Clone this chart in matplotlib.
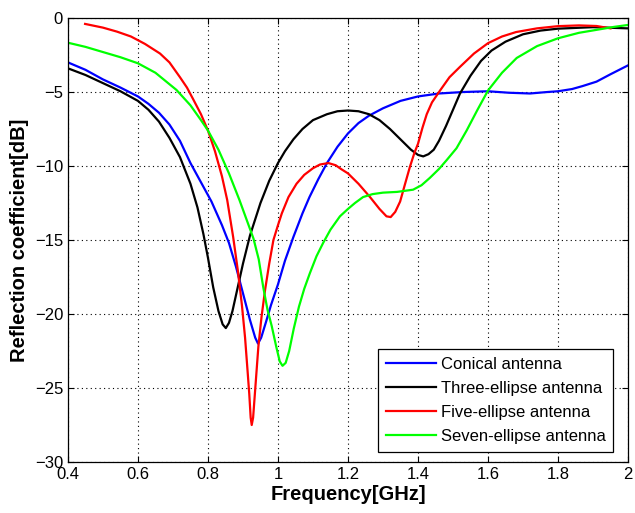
import matplotlib
matplotlib.use("Agg")
import matplotlib.pyplot as plt

plt.rcParams['font.family'] = ['Liberation Sans', 'DejaVu Sans']

# values
conical_f = [0.40, 0.45, 0.50, 0.55, 0.60, 0.63, 0.66, 0.69, 0.72, 0.75, 0.78, 0.81, 0.84,
             0.86, 0.88, 0.90, 0.92, 0.935, 0.943, 0.952, 0.965, 0.98, 1.00, 1.02, 1.044,
             1.07, 1.09, 1.115, 1.14, 1.17, 1.20, 1.23, 1.26, 1.30, 1.35, 1.40, 1.46, 1.53,
             1.60, 1.66, 1.72, 1.77, 1.80, 1.84, 1.87, 1.91, 1.95, 2.00]
conical_s = [-3.0, -3.5, -4.15, -4.7, -5.3, -5.8, -6.4, -7.2, -8.3, -9.8, -11.1, -12.4, -14.0,
             -15.2, -16.8, -18.6, -20.4, -21.6, -22.0, -21.6, -20.6, -19.4, -18.0, -16.4, -14.8,
             -13.2, -12.1, -10.9, -9.8, -8.7, -7.8, -7.1, -6.6, -6.1, -5.6, -5.3, -5.1, -5.0,
             -4.95, -5.05, -5.1, -5.0, -4.95, -4.8, -4.6, -4.3, -3.8, -3.2]

three_f = [0.40, 0.45, 0.50, 0.55, 0.60, 0.63, 0.66, 0.69, 0.72, 0.75, 0.77, 0.787, 0.80,
           0.815, 0.83, 0.842, 0.851, 0.86, 0.87, 0.885, 0.90, 0.92, 0.95, 0.975, 1.00, 1.02,
           1.044, 1.07, 1.10, 1.14, 1.17, 1.20, 1.23, 1.26, 1.29, 1.32, 1.35, 1.38, 1.40,
           1.415, 1.43, 1.445, 1.46, 1.48, 1.50, 1.52, 1.55, 1.58, 1.61, 1.65, 1.70, 1.75,
           1.80, 1.90, 2.00]
three_s = [-3.4, -3.85, -4.4, -4.95, -5.6, -6.2, -7.0, -8.1, -9.4, -11.2, -12.8, -14.6, -16.2,
           -18.2, -19.8, -20.7, -20.95, -20.6, -19.8, -18.2, -16.6, -14.7, -12.5, -11.0, -9.8, -9.0,
           -8.2, -7.5, -6.9, -6.5, -6.3, -6.25, -6.3, -6.5, -6.9, -7.5, -8.2, -8.9, -9.25,
           -9.35, -9.2, -8.9, -8.3, -7.3, -6.2, -5.1, -3.9, -2.9, -2.2, -1.6, -1.1, -0.85,
           -0.72, -0.62, -0.7]

five_f = [0.449, 0.50, 0.54, 0.58, 0.62, 0.663, 0.69, 0.72, 0.74, 0.758, 0.78, 0.80, 0.82,
          0.84, 0.855, 0.872, 0.885, 0.897, 0.906, 0.913, 0.918, 0.922, 0.925, 0.929, 0.934,
          0.939, 0.944, 0.953, 0.963, 0.975, 0.987, 1.00, 1.011, 1.03, 1.053, 1.075, 1.10,
          1.12, 1.144, 1.165, 1.18, 1.20, 1.23, 1.263, 1.29, 1.31, 1.322, 1.335, 1.349,
          1.362, 1.377, 1.39, 1.40, 1.413, 1.425, 1.44, 1.463, 1.49, 1.52, 1.56, 1.60, 1.64,
          1.68, 1.74, 1.80, 1.86, 1.91, 1.95]
five_s = [-0.4, -0.65, -0.92, -1.25, -1.75, -2.4, -3.0, -4.0, -4.7, -5.5, -6.5, -7.6, -9.0,
          -10.7, -12.3, -14.8, -17.0, -19.4, -21.6, -23.8, -25.4, -27.0, -27.5, -27.0, -25.4,
          -23.8, -22.2, -20.2, -18.4, -16.6, -15.0, -14.0, -13.2, -12.1, -11.2, -10.6, -10.15,
          -9.9, -9.8, -9.95, -10.2, -10.5, -11.2, -12.1, -12.9, -13.4, -13.45, -13.1, -12.4,
          -11.3, -10.05, -9.1, -8.5, -7.4, -6.5, -5.7, -4.9, -4.0, -3.3, -2.4, -1.7, -1.25,
          -0.95, -0.7, -0.55, -0.5, -0.54, -0.7]

seven_f = [0.40, 0.45, 0.50, 0.55, 0.60, 0.65, 0.71, 0.75, 0.78, 0.80, 0.83, 0.86, 0.89,
           0.91, 0.93, 0.945, 0.958, 0.97, 0.982, 0.995, 1.005, 1.013, 1.022, 1.032, 1.045,
           1.06, 1.075, 1.091, 1.11, 1.129, 1.15, 1.177, 1.20, 1.22, 1.243, 1.27, 1.30, 1.34,
           1.386, 1.41, 1.434, 1.46, 1.482, 1.51, 1.539, 1.57, 1.60, 1.64, 1.682, 1.74, 1.80,
           1.86, 1.91, 1.96, 2.00]
seven_s = [-1.67, -1.95, -2.3, -2.65, -3.06, -3.7, -4.86, -5.9, -6.9, -7.6, -8.9, -10.5, -12.3,
           -13.6, -14.9, -16.3, -18.2, -19.7, -20.8, -22.2, -23.2, -23.5, -23.3, -22.5, -21.0,
           -19.5, -18.3, -17.25, -16.1, -15.2, -14.3, -13.4, -12.9, -12.5, -12.1, -11.9, -11.8,
           -11.75, -11.6, -11.3, -10.8, -10.2, -9.6, -8.8, -7.6, -6.2, -4.9, -3.7, -2.7, -1.9,
           -1.37, -1.0, -0.8, -0.6, -0.47]

labels = ['Conical antenna', 'Three-ellipse antenna', 'Five-ellipse antenna', 'Seven-ellipse antenna']
xticks = [0.4, 0.6, 0.8, 1, 1.2, 1.4, 1.6, 1.8, 2]
yticks = [0, -5, -10, -15, -20, -25, -30]

fig = plt.figure(figsize=(6.35, 5.13), dpi=100)
ax = fig.add_axes([0.107, 0.0994, 0.882, 0.8655])

ax.plot(conical_f, conical_s, color='#0000ff', lw=1.6, label=labels[0])
ax.plot(three_f, three_s, color='black', lw=1.6, label=labels[1])
ax.plot(five_f, five_s, color='#ff0000', lw=1.6, label=labels[2])
ax.plot(seven_f, seven_s, color='#00ff00', lw=1.6, label=labels[3])

ax.set_xlim(0.4, 2)
ax.set_ylim(-30, 0)
ax.set_xticks(xticks)
ax.set_xticklabels(['0.4', '0.6', '0.8', '1', '1.2', '1.4', '1.6', '1.8', '2'])
ax.set_yticks(yticks)
ax.tick_params(direction='in', top=True, right=True, labelsize=12, length=4, width=0.8)
ax.grid(True, color='black', linestyle=(0, (1, 3)), linewidth=0.8)
for s in ax.spines.values():
    s.set_linewidth(0.9)

ax.set_xlabel('Frequency[GHz]', fontsize=14.5, fontweight='bold', labelpad=2)
ax.set_ylabel('Reflection coefficient[dB]', fontsize=14.5, fontweight='bold', labelpad=4)

leg = ax.legend(loc='lower right', bbox_to_anchor=(0.973, 0.023), fontsize=12,
                fancybox=False, framealpha=1, edgecolor='black', handlelength=3.0,
                handletextpad=0.3, labelspacing=0.55, borderpad=0.45, borderaxespad=0)
leg.get_frame().set_linewidth(0.9)

fig.savefig('out.png', dpi=100)
